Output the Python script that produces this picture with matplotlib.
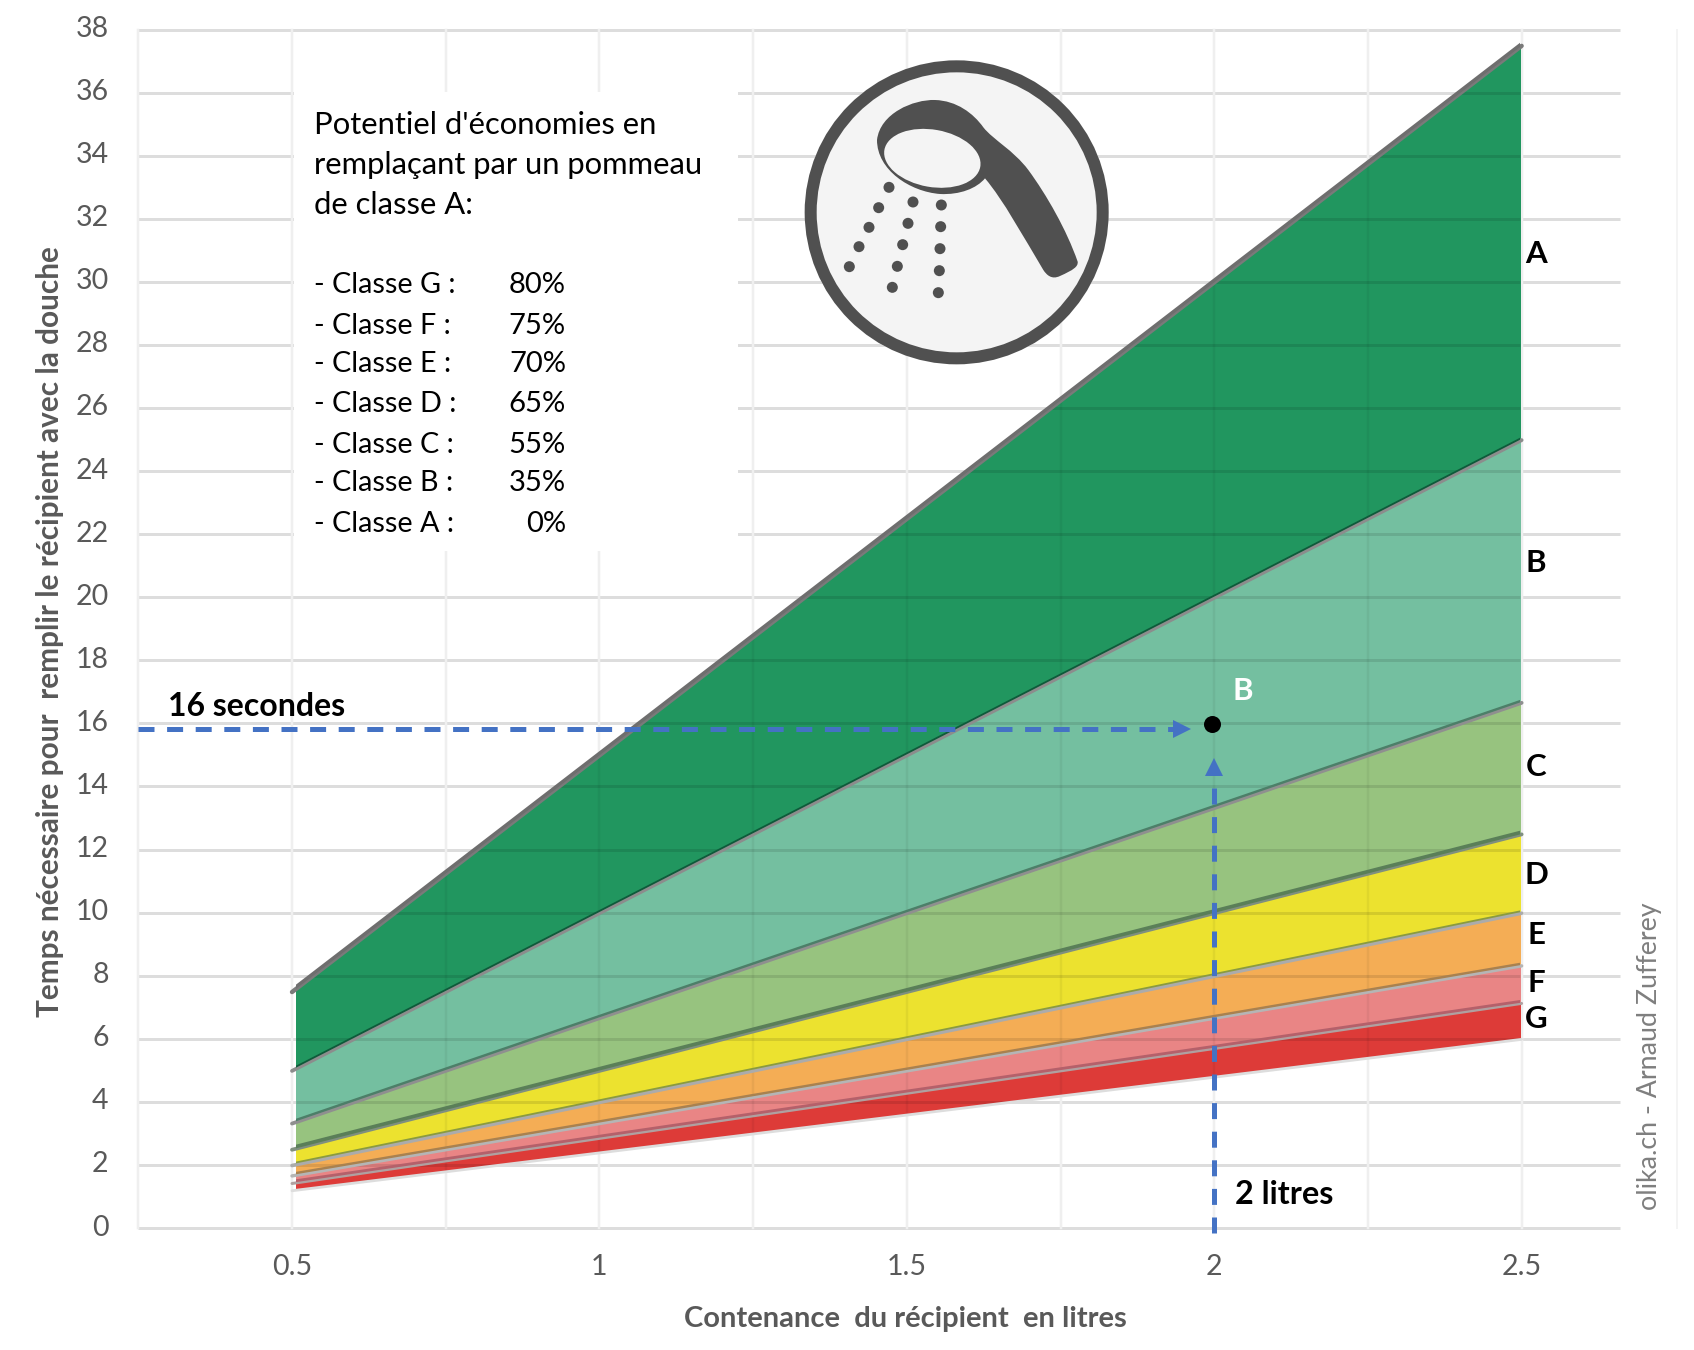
import matplotlib
matplotlib.use("Agg")
import matplotlib.pyplot as plt
from matplotlib.patches import Circle, Ellipse, PathPatch, Rectangle
from matplotlib.path import Path
from matplotlib.transforms import offset_copy, ScaledTranslation

plt.rcParams['font.family'] = ['Lato', 'DejaVu Sans']

# ---- data ----
volume = [0.5, 1, 1.5, 2, 2.5]
class_a = [7.5, 15, 22.5, 30, 37.5]
class_b = [5, 10, 15, 20, 25]
class_c = [3.33, 6.67, 10, 13.33, 16.67]
class_d = [2.5, 5, 7.5, 10, 12.5]
class_e = [2, 4, 6, 8, 10]
class_f = [1.67, 3.33, 5, 6.67, 8.33]
class_g = [1.43, 2.86, 4.29, 5.71, 7.14]
class_floor = [1.2, 2.4, 3.6, 4.8, 6]
x_ticks = [0.5, 1, 1.5, 2, 2.5]
x_labels = ['0.5', '1', '1.5', '2', '2.5']
x_grid = [0.25, 0.5, 0.75, 1, 1.25, 1.5, 1.75, 2, 2.25, 2.5]
y_ticks = list(range(0, 39, 2))
point_x, point_y = [1.996], [15.97]
read_y = 15.82
savings_classes = ['- Classe G :', '- Classe F :', '- Classe E :', '- Classe D :',
                   '- Classe C :', '- Classe B :', '- Classe A :']
savings_values = ['80%', '75%', '70%', '65%', '55%', '35%', '0%']
band_labels = ['A', 'B', 'C', 'D', 'E', 'F', 'G']

W, H = 1694, 1350
PX = 72 / 100  # points per pixel at dpi 100
fig = plt.figure(figsize=(W / 100, H / 100), dpi=100, facecolor='white')
L, R, T, B = 138.3, 1620, 29.5, 1228
ax = fig.add_axes([L / W, 1 - B / H, (R - L) / W, (B - T) / H])
ax.set_xlim(0.25, 2.66)
ax.set_ylim(0, 38)
for s in ax.spines.values():
    s.set_visible(False)
ax.patch.set_alpha(0)

# grid
for v in y_ticks:
    ax.axhline(v, color='#DDDDDD', lw=3 * PX, zorder=1, solid_capstyle='butt', clip_on=False)
for v in x_grid:
    ax.axvline(v, color='#EFEFEF', lw=2.5 * PX, zorder=1, clip_on=False)

# bands
tops = [class_a, class_b, class_c, class_d, class_e, class_f, class_g]
bottoms = [class_b, class_c, class_d, class_e, class_f, class_g, class_floor]
colors = ['#21965F', '#74BFA0', '#97C37F', '#ECE22F', '#F4AD55', '#E98585', '#DD3B38']
clip = Rectangle((0.507, 0), 1.99, 38, transform=ax.transData)
for top, bot, c in zip(tops, bottoms, colors):
    poly = ax.fill_between(volume, bot, top, color=c, lw=0, zorder=2)
    poly.set_clip_path(clip)

# grid showing through the bands
outer = ax.fill_between(volume, class_floor, class_a, color='none', lw=0, zorder=2)
outer_path = outer.get_paths()[0]
for v in y_ticks:
    ln = ax.plot([0.507, 2.497], [v, v], color='black', alpha=0.10, lw=3 * PX, zorder=3,
                 solid_capstyle='butt')[0]
    ln.set_clip_path(outer_path, ax.transData)
for v in x_grid[2:-1]:
    ln = ax.plot([v, v], [0, 38], color='black', alpha=0.05, lw=2.5 * PX, zorder=3,
                 solid_capstyle='butt')[0]
    ln.set_clip_path(outer_path, ax.transData)

# boundary lines: dark edge on top, grey line just below
lines = [class_a, class_b, class_c, class_d, class_e, class_f, class_g, class_floor]
edge_cols = ['#6E6E6E', '#0E5A3A', '#4C7F68', '#5A7F58', '#8A9A40', '#A9814F', '#B5606A', '#DD3B38']
edge_w = [3.4, 1.8, 2.4, 3.6, 1.8, 2.4, 2.8, 0.0]
gray_cols = ['#7A7A7A', '#8C8C8C', '#8F8F8F', '#7F8F7F', '#ABABAB', '#B5B5B5', '#B0A0A0', '#DDDDDD']
gray_w = [4.4, 3.8, 3.8, 3.8, 3.6, 3.4, 3.0, 2.8]
up = offset_copy(ax.transData, fig=fig, x=0, y=1.6, units='dots')
dn = offset_copy(ax.transData, fig=fig, x=0, y=-0.6, units='dots')
for y, ec, ew, gc, gw in zip(lines, edge_cols, edge_w, gray_cols, gray_w):
    ax.plot(volume, y, color=gc, lw=gw * PX, transform=dn, zorder=4, solid_capstyle='round')
    if ew:
        p = ax.plot(volume, y, color=ec, lw=ew * PX, transform=up, zorder=4.5,
                    solid_capstyle='butt')[0]
        p.set_clip_path(clip)

# reading guides
BLUE = '#4472C4'
dash = (0, (3.2, 2.52))
ax.plot([0.25, 1.937], [read_y, read_y], color=BLUE, lw=5 * PX, ls=dash, zorder=6,
        dash_capstyle='butt')
ax.plot([1.948], [read_y], marker='>', color=BLUE, ms=15 * PX * 1.25, mew=0, zorder=6)
ax.plot([2, 2], [-0.17, 14.3], color=BLUE, lw=5 * PX, ls=dash, zorder=6,
        dash_capstyle='butt', clip_on=False)
ax.plot([2], [14.62], marker='^', color=BLUE, ms=15 * PX * 1.25, mew=0, zorder=6)
ax.plot(point_x, point_y, 'o', color='black', ms=17 * PX, mew=0, zorder=7)

# ticks
ax.set_xticks(x_ticks, x_labels)
ax.set_yticks(y_ticks, [str(v) for v in y_ticks])
ax.tick_params(length=0, labelsize=20.5, labelcolor='#595959')
ax.tick_params(axis='y', pad=(L - 108) * PX - 0.5)
ax.tick_params(axis='x', pad=26 * PX)
lift = ScaledTranslation(0, 3 / 100, fig.dpi_scale_trans)
for t in ax.get_yticklabels():
    t.set_transform(t.get_transform() + lift)

# overlay in pixels
ov = fig.add_axes([0, 0, 1, 1], zorder=5)
ov.set_xlim(0, W)
ov.set_ylim(H, 0)
ov.axis('off')
ov.add_patch(Rectangle((293.5, 92), 444, 459, fc='white', ec='none', zorder=1))

ov.text(905, 1319, 'Contenance  du récipient  en litres', ha='center', va='center',
        fontsize=21, fontweight='bold', color='#595959')
ov.text(50, 632, 'Temps nécessaire pour  remplir le récipient avec la douche', rotation=90,
        ha='center', va='center', fontsize=21.4, fontweight='bold', color='#595959')

head = ['Potentiel d\'économies en', 'remplaçant par un pommeau', 'de classe A:']
for s, y in zip(head, [125, 165, 205]):
    ov.text(314, y, s, ha='left', va='center', fontsize=22.3, color='black')
row_y = [285, 326, 364, 404, 445, 483, 524]
for a, b, y in zip(savings_classes, savings_values, row_y):
    ov.text(314, y, a, ha='left', va='center', fontsize=20.7, color='black')
    ov.text(566, y, b, ha='right', va='center', fontsize=21, color='black')

letter_y = [254, 563, 767, 875, 935, 983, 1019]
for s, y in zip(band_labels, letter_y):
    ov.text(1536, y, s, ha='center', va='center', fontsize=22.5, fontweight='bold', color='black')
ov.text(1243, 691, 'B', ha='center', va='center', fontsize=22.5, fontweight='bold', color='white')
ov.text(257, 706, '16 secondes', ha='center', va='center', fontsize=23, fontweight='bold', color='black')
ov.text(1284, 1194, '2 litres', ha='center', va='center', fontsize=23.3, fontweight='bold', color='black')
ov.text(1649, 1056, 'olika.ch - Arnaud Zufferey', rotation=90, ha='center', va='center',
        fontsize=19.3, color='#7F7F7F')
ov.plot([1677, 1677], [30, 1228], color='#F4F4F4', lw=2 * PX)

# shower icon (zoom-crop coordinates -> pixels)
def ic(x, y):
    return 780 + x / 3, 40 + y / 3

DARK = '#505050'
ov.add_patch(Circle(ic(530, 517), 152, fc='#F4F4F4', ec='none', zorder=3))
ov.add_patch(Circle(ic(530, 517), 146, fc='none', ec=DARK, lw=12 * PX, zorder=4))
verts = [(291, 300), (300, 220), (400, 178), (465, 180), (530, 182), (580, 220), (610, 262),
         (640, 300), (700, 330), (745, 390), (800, 465), (860, 570), (893, 665),
         (895, 680), (880, 690), (840, 708), (815, 720), (800, 705), (790, 690),
         (730, 590), (670, 480), (615, 415), (590, 445), (540, 465), (480, 462),
         (390, 455), (291, 390), (291, 300)]
codes = [Path.MOVETO] + [Path.CURVE4] * 27
ov.add_patch(PathPatch(Path([ic(*v) for v in verts], codes), fc=DARK, ec='none', zorder=5))
ov.add_patch(Ellipse(ic(457, 355), 292 / 3, 172 / 3, angle=10, fc='#F4F4F4', ec='none', zorder=6))
drops = [(327, 442), (296, 503), (267, 562), (237, 620), (208, 680),
         (399, 486), (384, 550), (368, 614), (352, 679), (337, 742),
         (484, 495), (482, 560), (480, 626), (478, 692), (475, 758)]
for d in drops:
    ov.add_patch(Circle(ic(*d), 5.5, fc=DARK, ec='none', zorder=6))

fig.savefig('out.png', dpi=100)
